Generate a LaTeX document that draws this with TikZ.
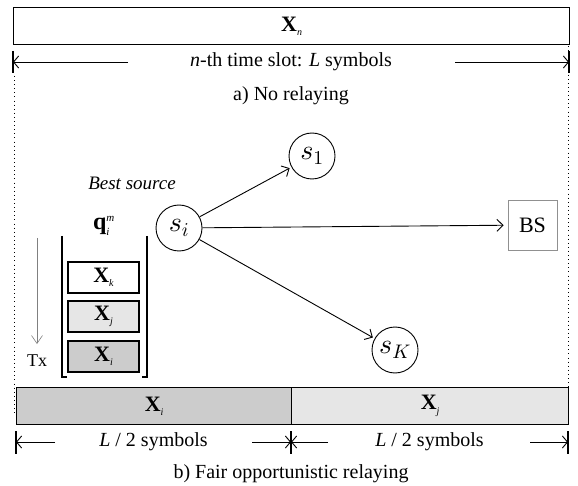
\documentclass[tikz,border=0pt]{standalone}
\DeclareFontShape{OML}{cmm}{m}{it}{<->cmmi10}{}
\DeclareFontShape{OT1}{cmr}{m}{n}{<->cmr10}{}
\DeclareFontShape{OMS}{cmsy}{m}{n}{<->cmsy10}{}
\usepackage{fontspec}
\setmainfont{Liberation Serif}
\usetikzlibrary{arrows.meta}
\definecolor{dkfill}{HTML}{CCCCCC}
\definecolor{ltfill}{HTML}{E6E6E6}
\definecolor{bsgray}{HTML}{909090}
\newcommand{\bx}[1]{\textbf{X}\raisebox{-0.45ex}{\fontsize{10}{10}\selectfont\textit{#1}}}
\newcommand{\smit}[1]{\hbox{\fontsize{11}{11}\selectfont\textit{#1}}}
\begin{document}
\begin{tikzpicture}[x=1pt,y=-1pt,
  txt/.style={font=\fontsize{20}{24}\selectfont, inner sep=0pt},
  bxlbl/.style={font=\fontsize{22}{24}\selectfont},
  slot/.style={draw, line width=1.2pt, inner sep=0pt, anchor=north west, bxlbl},
  qbox/.style={draw, line width=1.2pt, inner sep=0pt, minimum width=71pt, minimum height=31pt, bxlbl},
  sta/.style={draw, circle, line width=0.9pt, minimum size=46pt, inner sep=0pt, font=\fontsize{28}{32}\selectfont},
  link/.style={line width=0.9pt, -{Straight Barb[length=6pt,width=12pt,line width=0.9pt]}, shorten >=2pt},
  dim/.style={line width=0.9pt, -{Straight Barb[length=5pt,width=12pt,line width=0.9pt]}},
  tick/.style={line width=1.1pt},
  dots/.style={line width=0.9pt, dash pattern=on 0.9pt off 3.2pt},
]
\useasboundingbox (0,0) rectangle (578,486);

% a) No relaying
\node[slot, minimum width=556pt, minimum height=37pt] (top) at (13,7) {\bx{n}};
\node[txt] (slotlbl) at (291,62) {\textit{n}-th time slot: \textit{L} symbols};
\coordinate (tl) at (13,62);
\coordinate (tr) at (569,62);
\coordinate (tlend) at (128,62);
\coordinate (trend) at (455,62);
\draw[dim] (tlend) -- (tl);
\draw[dim] (trend) -- (tr);
\draw[tick] (13,51) -- (13,73);
\draw[tick] (569,51) -- (569,73);
\node[txt] (capa) at (291,96) {a) No relaying};

% dotted guides
\draw[dots] (14,76) -- (14,413);
\draw[dots] (568,46) -- (568,410);

% queue
\node[txt, font=\fontsize{19}{22}\selectfont\itshape] (best) at (132,183) {Best source};
\node[font=\fontsize{24}{26}\selectfont, inner sep=0pt] (q) at (104,226) {$\textbf{q}_{\smit{i}}^{\smit{m}}$};
\draw[line width=1.1pt] (62,236) -- (62,377) -- (67,377);
\draw[line width=1.1pt] (147,236) -- (147,377) -- (142,377);
\node[qbox, fill=white] (xk) at (103.5,277.5) {\bx{k}};
\node[qbox, fill=ltfill] (xj) at (103.5,316.5) {\bx{j}};
\node[qbox, fill=dkfill] (xi) at (103.5,356.5) {\bx{i}};
\coordinate (txtop) at (37,238);
\coordinate (txbot) at (37,344);
\draw[gray, line width=0.6pt, -{Straight Barb[length=8pt,width=11pt,line width=0.6pt]}] (txtop) -- (txbot);
\node[txt, font=\fontsize{18}{21}\selectfont] (tx) at (37,361) {Tx};

% stations
\node[sta] (si) at (179,228) {$s_i$};
\node[sta] (s1) at (312,156) {$s_1$};
\node[sta] (sK) at (395,350) {$s_K$};
\node[draw=bsgray, line width=0.9pt, minimum width=49pt, minimum height=50pt, inner sep=0pt, font=\fontsize{22}{24}\selectfont] (bs) at (532.5,225) {BS};
\draw[link] (si) -- (s1);
\draw[link, shorten >=4pt] (si) -- (bs);
\draw[link] (si) -- (sK);

% b) Fair opportunistic relaying
\node[slot, fill=dkfill, minimum width=275pt, minimum height=37pt] (bi) at (16,387) {\bx{i}};
\node[slot, fill=ltfill, minimum width=277pt, minimum height=37pt] (bj) at (291,387) {\bx{j}};
\node[txt] (hl) at (153.5,442) {\textit{L} / 2 symbols};
\node[txt] (hr) at (429.5,442) {\textit{L} / 2 symbols};
\coordinate (bl) at (16,442);
\coordinate (bm) at (291,442);
\coordinate (br) at (568,442);
\coordinate (bl1) at (55,442);
\coordinate (bl2) at (252,442);
\coordinate (br1) at (328,442);
\coordinate (br2) at (530,442);
\draw[dim] (bl1) -- (bl);
\draw[dim] (bl2) -- (bm);
\draw[dim] (br1) -- (bm);
\draw[dim] (br2) -- (br);
\draw[tick] (16,431) -- (16,454);
\draw[tick] (291,431) -- (291,454);
\draw[tick] (568,431) -- (568,454);
\node[txt] (capb) at (291,474) {b) Fair opportunistic relaying};
\end{tikzpicture}
\end{document}
